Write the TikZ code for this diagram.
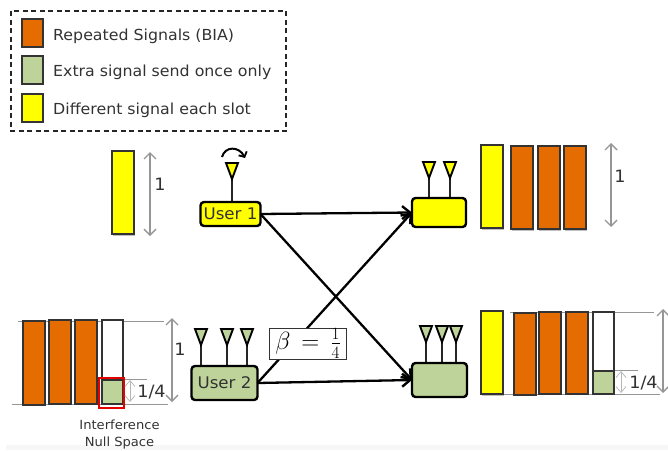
\documentclass[tikz,border=0pt]{standalone}
\usepackage{fontspec}
\setmainfont{DejaVu Sans}[FakeStretch=1.04]
\usetikzlibrary{arrows.meta,calc}
\definecolor{org}{RGB}{228,108,0}
\definecolor{grn}{RGB}{190,211,153}
\definecolor{yel}{RGB}{255,255,0}
\definecolor{gline}{RGB}{150,150,150}
\definecolor{txt}{RGB}{50,50,50}
\tikzset{
 bar/.style={draw=black!80,line width=1.2pt},
 usr/.style={draw=black,line width=2.4pt,rounded corners=3.5pt,inner sep=0pt,outer sep=0pt,text=txt,font=\fontsize{16}{18}\selectfont},
 ant/.style={draw=black,line width=1.9pt,line join=miter},
 stem/.style={draw=black!85,line width=1.4pt},
 link/.style={draw=black,line width=2.3pt,-{Straight Barb[length=8pt,width=13pt,line width=2.4pt]},shorten >=0pt},
 guide/.style={draw=gline,line width=1pt},
 big/.style={draw=gline,line width=1.5pt,{Straight Barb[length=6pt,width=12pt,line width=1.4pt]}-{Straight Barb[length=6pt,width=12pt,line width=1.4pt]}},
 small/.style={draw=gline!70,line width=0.7pt,{Straight Barb[length=6pt,width=10pt,line width=0.7pt]}-{Straight Barb[length=6pt,width=10pt,line width=0.7pt]}},
 lab/.style={text=txt,inner sep=0pt,font=\fontsize{17}{19}\selectfont},
 leg/.style={text=txt,inner sep=0pt,anchor=west,font=\fontsize{15.2}{17}\selectfont},
 note/.style={text=txt,inner sep=0pt,font=\fontsize{12.6}{15}\selectfont},
}
\newcommand{\myant}[4]{% x, top y, stem end y, fill
 \draw[stem] (#1,#2+14) -- (#1,#3);
 \draw[ant,fill=#4] (#1-6,#2) -- (#1+6,#2) -- (#1,#2+16) -- cycle;
}
\newcommand{\mybar}[5]{\fill[black!25] (#1+1,#3) rectangle (#2+1,#4+1.5);\draw[bar,fill=#5] (#1,#3) rectangle (#2,#4);}
\begin{document}
\begin{tikzpicture}[x=1pt,y=-1pt]
\useasboundingbox (0,0) rectangle (668,450);
\fill[black!3] (6,445) rectangle (668,450);
% legend
\draw[black!85,line width=1.2pt,dash pattern=on 5pt off 3.5pt] (11,11) rectangle (286,131);
\draw[bar,fill=org] (22,19) rectangle (43,47);
\draw[bar,fill=grn] (22,56) rectangle (43,84);
\draw[bar,fill=yel] (22,94) rectangle (43,122);
\node[leg] (l1) at (53,36) {Repeated Signals (BIA)};
\node[leg] (l2) at (53,72) {Extra signal send once only};
\node[leg] (l3) at (53,110) {Different signal each slot};
% user 1 side
\mybar{112}{134}{151}{234}{yel}
\draw[big] (150,152) -- (150,236);
\node[lab] (one1) at (160,184) {1};
% antennas
\myant{232}{163}{202}{yel}
\draw[line width=2pt,-{Straight Barb[length=4pt,width=9pt,line width=1.8pt]}] (222,157) .. controls (225,146) and (239,146) .. (245,158);
\myant{429}{162}{198}{yel}
\myant{450}{162}{198}{yel}
\myant{201}{329}{366}{grn}
\myant{227}{329}{366}{grn}
\myant{247}{329}{366}{grn}
\myant{426}{326}{363}{grn}
\myant{442}{326}{363}{grn}
\myant{456}{326}{363}{grn}
% users
\node[usr,fill=yel,minimum width=60pt,minimum height=24pt] (u1) at (230.5,214) {User 1};
\node[usr,fill=grn,minimum width=66pt,minimum height=34pt] (u2) at (224.5,383) {User 2};
\node[usr,fill=yel,minimum width=54pt,minimum height=29pt] (r1) at (439,212.5) {};
\node[usr,fill=grn,minimum width=55pt,minimum height=34pt] (r2) at (439.5,380) {};
% links
\draw[link] (u1.east) -- (r1.west);
\draw[link] (u1.east) -- (r2.west);
\draw[link] (u2.east) -- (r2.west);
\draw[link] (u2.east) -- (r1.west);
\node[draw=black!80,fill=white,line width=0.9pt,minimum width=77pt,minimum height=31pt,inner sep=0pt,text=black] (beta) at (308,343.5) {\fontsize{23}{25}\selectfont$\beta\,=\,\frac{1}{4}$};
% rx1 bars
\mybar{481}{503}{145}{228}{yel}
\mybar{511}{533}{146}{229}{org}
\mybar{538}{560}{146}{229}{org}
\mybar{564}{586}{146}{229}{org}
\draw[big] (611,143) -- (611,227);
\node[lab] (one2) at (620,176) {1};
% left bars
\draw[guide] (18,321) -- (164,321);
\draw[guide] (12,404) -- (168,404);
\draw[guide] (124,379) -- (147,379);
\draw[bar,fill=org] (23,321) rectangle (45,405);
\draw[bar,fill=org] (49,320) rectangle (71,404);
\draw[bar,fill=org] (75,320) rectangle (97,404);
\draw[bar,fill=white] (102,320) rectangle (123,404);
\draw[bar,fill=grn] (102,380) rectangle (123,404);
\draw[red!90!black,line width=1.7pt] (99,378) rectangle (124,408);
\draw[big] (172,318) -- (172,402);
\node[lab] (one3) at (180,349) {1};
\draw[small] (130,380) -- (130,402);
\node[lab] (q1) at (151.5,392) {1/4};
\node[note] (n1) at (119.5,425) {Interference};
\node[note] (n2) at (119.5,443) {Null Space};
% right bars
\draw[guide] (510,312) -- (654,312);
\draw[guide] (500,394) -- (660,394);
\draw[guide] (614,370) -- (638,370);
\mybar{481}{503}{311}{394}{yel}
\draw[bar,fill=org] (514,313) rectangle (536,395);
\draw[bar,fill=org] (539,312) rectangle (561,394);
\draw[bar,fill=org] (566,312) rectangle (588,394);
\draw[bar,fill=white] (593,312) rectangle (614,394);
\draw[bar,fill=grn] (593,371) rectangle (614,394);
\draw[big] (663,309) -- (663,393);
\draw[small] (621,371) -- (621,393);
\node[lab] (q2) at (643.5,383) {1/4};
\end{tikzpicture}
\end{document}
